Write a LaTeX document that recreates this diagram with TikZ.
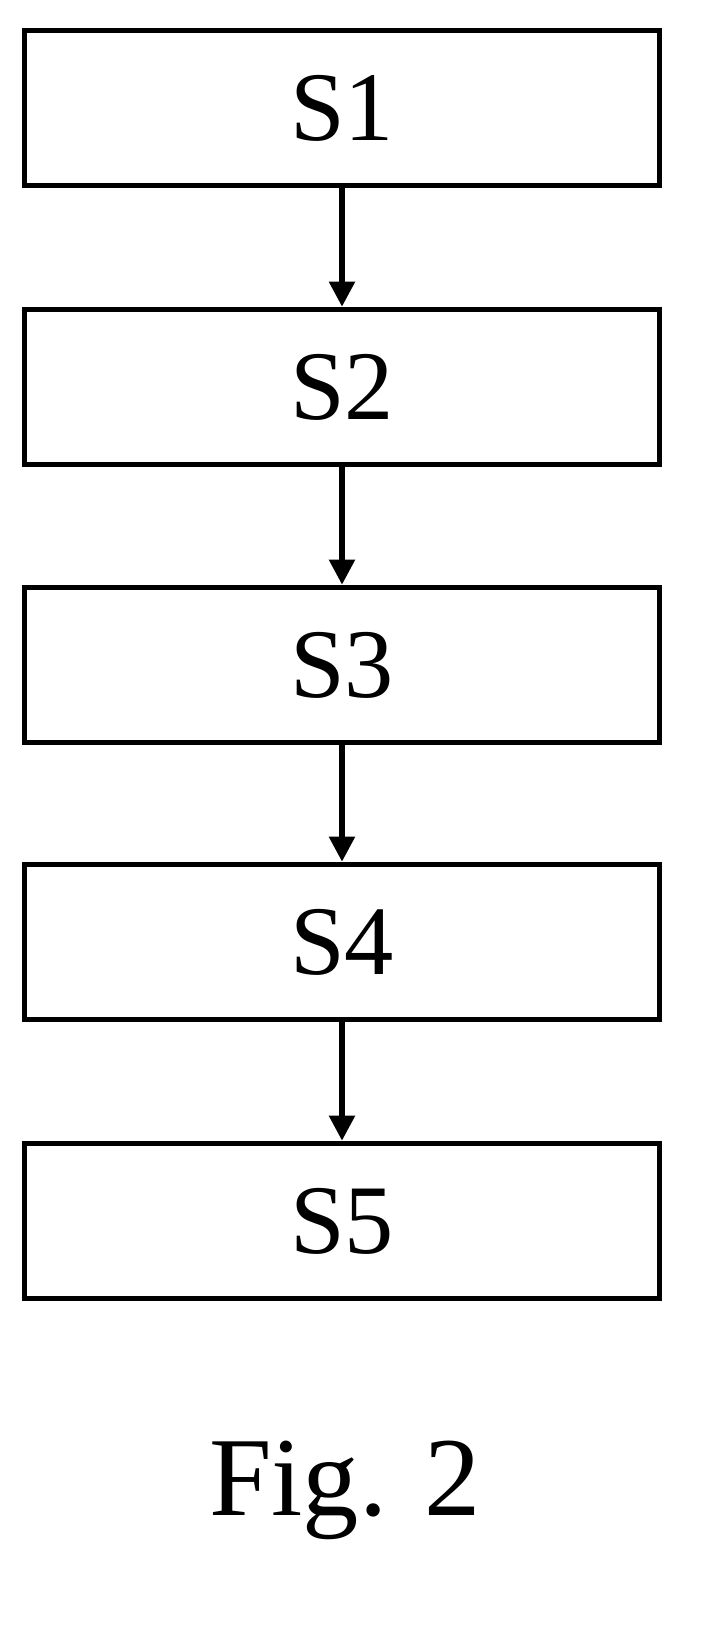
\documentclass[tikz,border=0pt]{standalone}
\usepackage{fontspec}
\setmainfont{Liberation Serif}
\usetikzlibrary{arrows.meta,positioning}
\tikzset{
    stepbox/.style={draw, line width=3.2pt, minimum width=12.7cm, minimum height=3.1cm, font=\fontsize{56}{56}\selectfont},
    flow/.style={-{Triangle[length=0.5cm,width=0.5cm]}, line width=3pt}
}
\begin{document}
\begin{tikzpicture}
    \useasboundingbox (0,0) rectangle (14.26,-32.88);
    % Steps
    \foreach \i/\y in {1/-2.16, 2/-7.74, 3/-13.3, 4/-18.84, 5/-24.42} {
        \node[stepbox] (s\i) at (6.84, \y) {S\i};
    }
    % Arrows
    \foreach \i/\j in {1/2, 2/3, 3/4, 4/5} {
        \draw[flow] (s\i.south) -- (s\j.north);
    }
    % Caption
    \node[font=\fontsize{64}{64}\selectfont] (cap) at (6.9, -29.8) {Fig. 2};
\end{tikzpicture}
\end{document}
